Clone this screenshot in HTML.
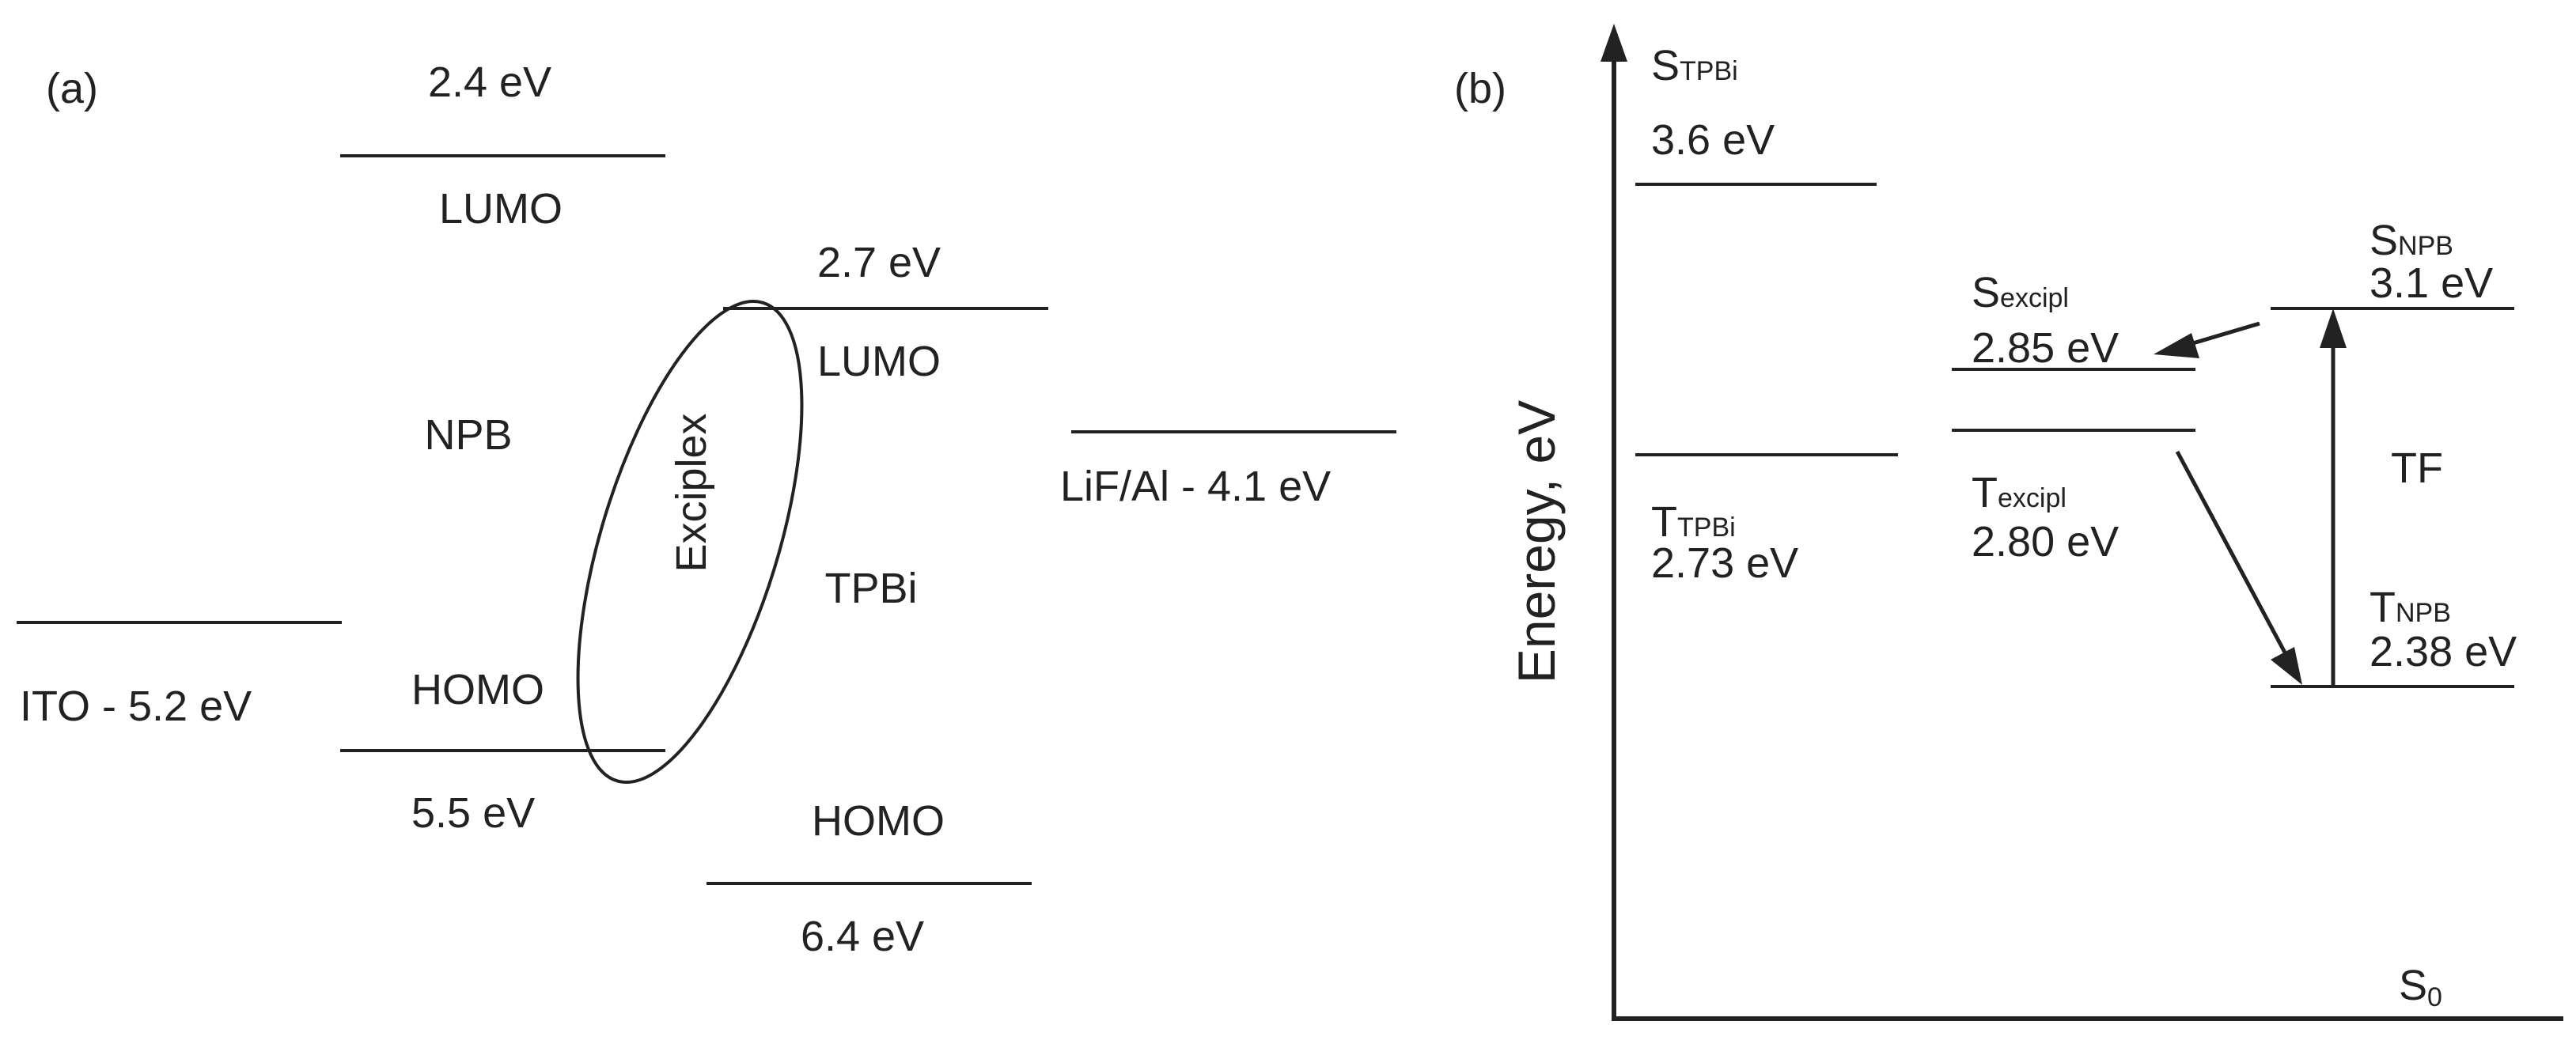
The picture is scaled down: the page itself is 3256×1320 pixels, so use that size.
<!DOCTYPE html>
<html><head><meta charset="utf-8"><style>
html,body{margin:0;padding:0;background:#fff;}
svg{display:block;}
text{font-family:"Liberation Sans",sans-serif;fill:#222;}
</style></head><body>
<svg width="3256" height="1320" viewBox="0 0 3256 1320" xmlns="http://www.w3.org/2000/svg">
<g stroke="#222" stroke-width="4" fill="none">
<line x1="430" y1="197" x2="841" y2="197"/>
<line x1="914" y1="390" x2="1325" y2="390"/>
<line x1="1354" y1="546" x2="1765" y2="546"/>
<line x1="21" y1="787" x2="432" y2="787"/>
<line x1="430" y1="949" x2="841" y2="949"/>
<line x1="893" y1="1117" x2="1304" y2="1117"/>
<ellipse cx="872" cy="685" rx="112" ry="316" transform="rotate(17 872 685)"/>
<line x1="2067" y1="233" x2="2372" y2="233"/>
<line x1="2067" y1="575" x2="2399" y2="575"/>
<line x1="2467" y1="467" x2="2775" y2="467"/>
<line x1="2467" y1="544" x2="2775" y2="544"/>
<line x1="2870" y1="390" x2="3178" y2="390"/>
<line x1="2870" y1="868" x2="3178" y2="868"/>
<line x1="2040" y1="70" x2="2040" y2="1288" stroke-width="6"/>
<line x1="2037" y1="1288" x2="3240" y2="1288" stroke-width="6"/>
<line x1="2949" y1="868" x2="2949" y2="440" stroke-width="5"/>
<line x1="2856" y1="409" x2="2765" y2="436" stroke-width="5"/>
<line x1="2752" y1="571" x2="2888" y2="825" stroke-width="5"/>
</g>
<g fill="#222">
<polygon points="2040,30 2023,78 2057,78"/>
<polygon points="2949,390 2932,440 2966,440"/>
<polygon points="2722,448 2770,421 2780,453"/>
<polygon points="2910,866 2870,834 2900,818"/>
</g>
<g font-size="54">
<text x="58" y="130">(a)</text>
<text x="619" y="122" text-anchor="middle">2.4 eV</text>
<text x="633" y="282" text-anchor="middle">LUMO</text>
<text x="1111" y="350" text-anchor="middle">2.7 eV</text>
<text x="1111" y="475" text-anchor="middle">LUMO</text>
<text x="592" y="568" text-anchor="middle">NPB</text>
<text x="1340" y="633">LiF/Al - 4.1  eV</text>
<text x="1101" y="762" text-anchor="middle">TPBi</text>
<text x="25" y="911">ITO - 5.2 eV</text>
<text x="520" y="890">HOMO</text>
<text x="520" y="1046">5.5 eV</text>
<text x="1110" y="1056" text-anchor="middle">HOMO</text>
<text x="1090" y="1202" text-anchor="middle">6.4 eV</text>
<text transform="translate(892 623) rotate(-90)" text-anchor="middle">Exciplex</text>
<text x="1838" y="130">(b)</text>
<text x="2087" y="101">S<tspan font-size="34">TPBi</tspan></text>
<text x="2087" y="195">3.6 eV</text>
<text x="2087" y="678">T<tspan font-size="34">TPBi</tspan></text>
<text x="2087" y="730">2.73 eV</text>
<text x="2492" y="388">S<tspan font-size="34">excipl</tspan></text>
<text x="2492" y="458">2.85 eV</text>
<text x="2492" y="641">T<tspan font-size="34">excipl</tspan></text>
<text x="2492" y="703">2.80 eV</text>
<text x="2995" y="322">S<tspan font-size="34">NPB</tspan></text>
<text x="2995" y="376">3.1 eV</text>
<text x="3022" y="610">TF</text>
<text x="2995" y="786">T<tspan font-size="34">NPB</tspan></text>
<text x="2995" y="842">2.38 eV</text>
<text x="3032" y="1264">S<tspan font-size="34" dy="8">0</tspan></text>
<text transform="translate(1965 685) rotate(-90)" text-anchor="middle" font-size="66">Eneregy, eV</text>
</g>
</svg>
</body></html>
